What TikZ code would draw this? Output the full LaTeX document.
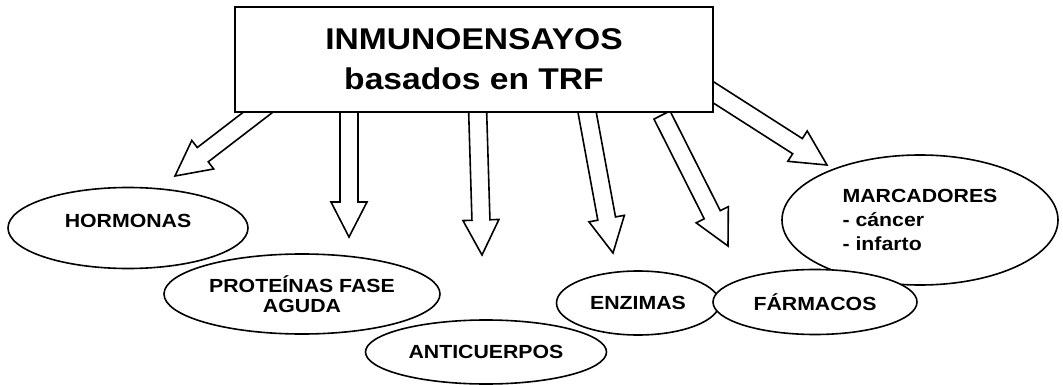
\documentclass[tikz,border=0pt]{standalone}
\usepackage{fontspec}
\setmainfont{Liberation Sans}[FakeStretch=1.12]
\usepackage{tikz}
\usetikzlibrary{calc,shapes.geometric}

\tikzset{
  blockarr/.style={draw, fill=white, line width=1.6pt, line join=miter},
  topic/.style={ellipse, draw, fill=white, line width=1.6pt, inner sep=0pt,
    align=center, font=\fontsize{19}{20}\selectfont\bfseries}
}
% hollow block arrow from #1 to tip #2
\newcommand{\blockarrow}[2]{%
  \coordinate (hb) at ($(#2)!35pt!(#1)$);
  \draw[blockarr] ($(#1)!9pt!90:(#2)$) -- ($(hb)!9pt!90:(#2)$) -- ($(hb)!18pt!90:(#2)$)
    -- (#2) -- ($(hb)!18pt!-90:(#2)$) -- ($(hb)!9pt!-90:(#2)$) -- ($(#1)!9pt!-90:(#2)$) -- cycle;
}

\begin{document}
\begin{tikzpicture}[x=1pt,y=-1pt]
\useasboundingbox (0,0) rectangle (1063,385);

\coordinate (s1) at (287,90);  \coordinate (t1) at (175,176);
\coordinate (s2) at (349,90);  \coordinate (t2) at (349,237);
\coordinate (s3) at (477,90);  \coordinate (t3) at (482,255);
\coordinate (s4) at (583,90);  \coordinate (t4) at (613,253);
\coordinate (s5) at (662,115); \coordinate (t5) at (728,246);
\coordinate (s6) at (680,71);  \coordinate (t6) at (827,165);

\blockarrow{s1}{t1}
\blockarrow{s2}{t2}
\blockarrow{s3}{t3}
\blockarrow{s4}{t4}
\blockarrow{s5}{t5}
\blockarrow{s6}{t6}

\node[draw, fill=white, line width=1.6pt, minimum width=478pt, minimum height=105pt,
  align=center, font=\fontsize{30}{40}\selectfont\bfseries] (title) at (474,59.5)
  {INMUNOENSAYOS\\basados en TRF};

\node[topic, minimum width=240pt, minimum height=81pt, text depth=14pt] (horm) at (128,228) {HORMONAS};
\node[topic, minimum width=276pt, minimum height=80pt] (prot) at (302,294) {PROTEÍNAS FASE\\AGUDA};
\node[topic, minimum width=241pt, minimum height=64pt] (anti) at (486,352) {ANTICUERPOS};
\node[topic, minimum width=163pt, minimum height=64pt] (enzi) at (638,303) {ENZIMAS};
\node[topic, minimum width=276pt, minimum height=130pt, align=left,
  font=\fontsize{19}{24}\selectfont\bfseries] (marc) at (920,220) {MARCADORES\\- cáncer\\- infarto};
\node[topic, minimum width=204pt, minimum height=65pt] (farm) at (815,302) {FÁRMACOS};
\end{tikzpicture}
\end{document}
